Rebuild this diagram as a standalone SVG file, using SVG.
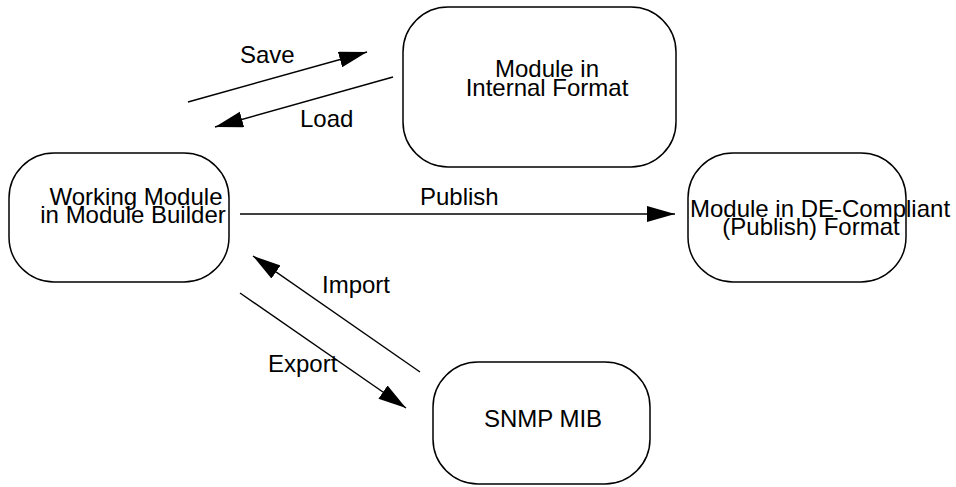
<svg xmlns="http://www.w3.org/2000/svg" width="956" height="487" viewBox="0 0 956 487">
<style>
.box{fill:#fff;stroke:#000;stroke-width:1.5}
.t{font-family:"Liberation Sans",Arial,sans-serif;font-size:24px;fill:#000;text-anchor:middle}
.l{font-family:"Liberation Sans",Arial,sans-serif;font-size:24px;fill:#000}
.c{stroke:#000;stroke-width:1.4;fill:none;marker-end:url(#ah)}
</style>
<defs>
<marker id="ah" markerUnits="userSpaceOnUse" markerWidth="30" markerHeight="18" refX="28" refY="8" orient="auto" viewBox="0 0 30 18">
<path d="M0,0 L28,8 L0,16 z" fill="#000"/>
</marker>
</defs>
<rect width="956" height="487" fill="#fff"/>
<g id="internal">
<rect class="box" x="403" y="7" width="273" height="160" rx="45" ry="45"/>
<text class="t" x="547" y="77">Module in</text>
<text class="t" x="547" y="96">Internal Format</text>
</g>
<g id="working">
<rect class="box" x="9" y="153" width="220" height="129" rx="45" ry="45"/>
<text class="t" x="136" y="205">Working Module</text>
<text class="t" x="133" y="223">in Module Builder</text>
</g>
<g id="publish">
<rect class="box" x="688" y="153" width="218" height="129" rx="45" ry="45"/>
<text class="t" x="820" y="217">Module in DE-Compliant</text>
<text class="t" x="811" y="235">(Publish) Format</text>
</g>
<g id="snmp">
<rect class="box" x="433" y="362" width="217" height="122" rx="45" ry="45"/>
<text class="t" x="543" y="427">SNMP MIB</text>
</g>
<g id="connectors">
<line class="c" x1="188" y1="102" x2="367" y2="52"/>
<line class="c" x1="393" y1="77" x2="215" y2="127"/>
<line class="c" x1="240" y1="214" x2="675" y2="214"/>
<line class="c" x1="420" y1="372" x2="253" y2="256"/>
<line class="c" x1="240" y1="293" x2="406" y2="408"/>
<text class="l" x="240" y="63">Save</text>
<text class="l" x="300" y="127">Load</text>
<text class="l" x="420" y="205">Publish</text>
<text class="l" x="322" y="293">Import</text>
<text class="l" x="268" y="372">Export</text>
</g>
</svg>
